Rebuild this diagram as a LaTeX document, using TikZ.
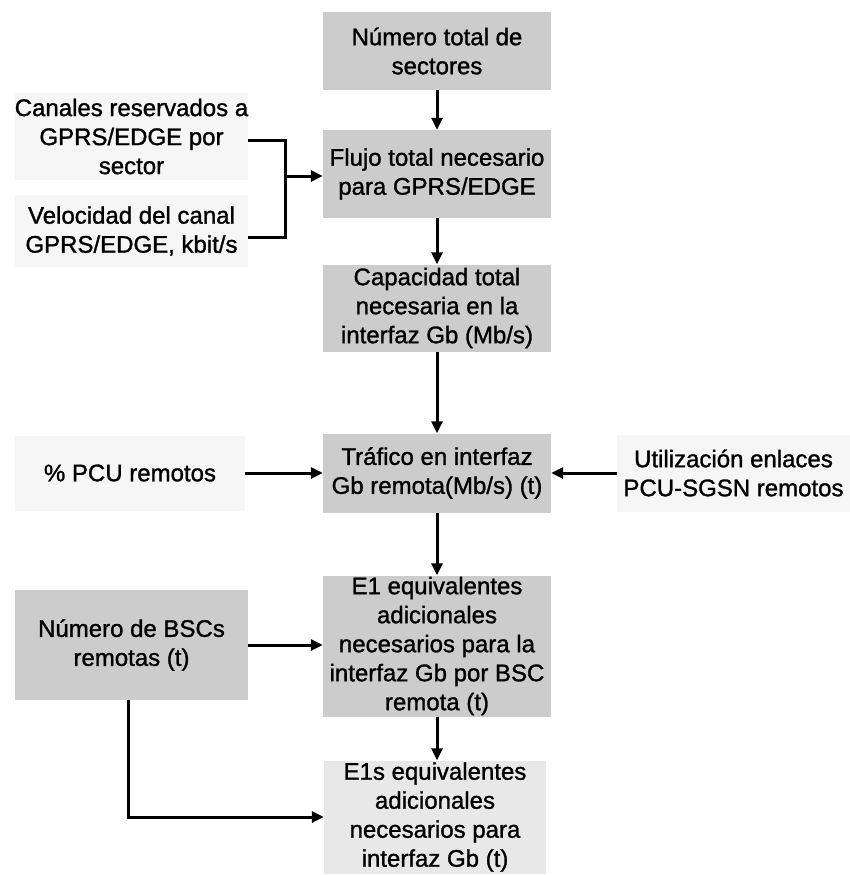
\documentclass[tikz,border=0pt]{standalone}
\usepackage{fontspec}
\setmainfont{Liberation Sans}[FakeBold=1.2]
\newfontfamily\heavyfont{Liberation Sans}[FakeBold=1.2,AutoFakeBold=1.2]
\usetikzlibrary{arrows.meta}
\definecolor{calcgray}{HTML}{CCCCCC}
\definecolor{lightgray}{HTML}{E8E8E8}
\definecolor{inputgray}{HTML}{F6F6F6}
\begin{document}
\begin{tikzpicture}[x=1pt,y=-1pt,
  txt/.style={align=center,inner sep=0pt,font=\heavyfont\bfseries\fontsize{24}{29}\selectfont},
  calcbox/.style={txt,fill=calcgray,minimum width=228pt},
  softbox/.style={txt,fill=lightgray,minimum width=222pt},
  inbox/.style={txt,fill=inputgray,minimum width=233pt},
  arr/.style={line width=3pt,-{Triangle[length=12pt,width=11pt]}},
  wire/.style={line width=3pt}]
  \useasboundingbox (0,0) rectangle (850,875);

  % central calculation chain
  \node[calcbox,minimum height=78pt]  (n1) at (437,51)  {Número total de\\sectores};
  \node[calcbox,minimum height=88pt]  (n2) at (437,174) {Flujo total necesario\\para GPRS/EDGE};
  \node[calcbox,minimum height=87pt]  (n3) at (437,308) {Capacidad total\\necesaria en la\\interfaz Gb (Mb/s)};
  \node[calcbox,minimum height=79pt]  (n4) at (437,473) {Tráfico en interfaz\\Gb remota(Mb/s) (t)};
  \node[calcbox,minimum height=141pt] (n5) at (437,646) {E1 equivalentes\\adicionales\\necesarios para la\\interfaz Gb por BSC\\remota (t)};
  \node[softbox,minimum height=113pt] (n6) at (435,817) {E1s equivalentes\\adicionales\\necesarios para\\interfaz Gb (t)};

  % inputs
  \node[inbox,minimum height=87pt] (c1) at (131.5,136.5) {Canales reservados a\\GPRS/EDGE por\\sector};
  \node[inbox,minimum height=72pt] (c2) at (131.5,231) {Velocidad del canal\\GPRS/EDGE, kbit/s};
  \node[inbox,minimum width=230pt,minimum height=75pt] (pcu) at (130,473) {\% PCU remotos};
  \node[inbox,minimum height=77pt] (util) at (733.5,473) {Utilización enlaces\\PCU-SGSN remotos};
  \node[calcbox,minimum width=233pt,minimum height=110pt] (bsc) at (131.5,645) {Número de BSCs\\remotas (t)};

  % connectors
  \draw[arr] (n1) -- (n2);
  \draw[arr] (n2) -- (n3);
  \draw[arr] (n3) -- (n4);
  \draw[arr] (n4) -- (n5);
  \draw[arr] (n5) -- (n5 |- n6.north);

  \coordinate (join) at (285,176);
  \draw[wire] ([yshift=-4pt]c1.east) -| (join) |- ([yshift=-6pt]c2.east);
  \draw[arr] (join) -- (join -| n2.west);

  \draw[arr] (pcu.east) -- (pcu.east -| n4.west);
  \draw[arr] (util.west) -- (util.west -| n4.east);
  \draw[arr] (bsc.east) -- (bsc.east -| n5.west);
  \draw[arr] ([xshift=-3pt]bsc.south) |- (n6.west);
\end{tikzpicture}
\end{document}
